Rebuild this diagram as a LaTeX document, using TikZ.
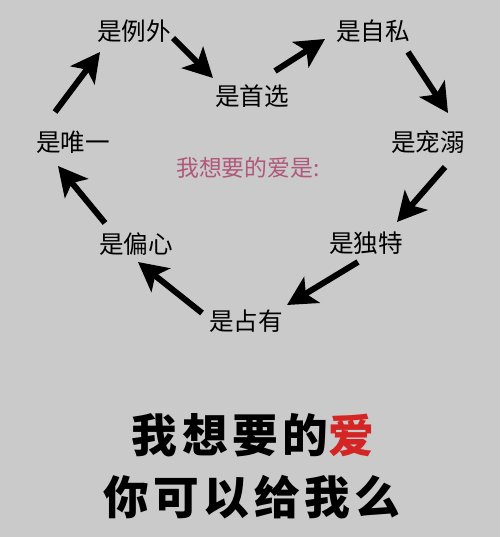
\documentclass[tikz,border=0pt]{standalone}
\usepackage{fontspec}
\usetikzlibrary{arrows.meta}
\newfontfamily\cjk{Noto Sans CJK SC}
\newfontfamily\cjkwide[LetterSpace=10]{Noto Sans CJK SC}
\definecolor{bgcol}{HTML}{CACACA}
\definecolor{pinkcol}{HTML}{B0587A}
\definecolor{redcol}{HTML}{D42424}

\begin{document}
\begin{tikzpicture}[x=0.02cm, y=-0.02cm,
  word/.style={font=\cjk\fontsize{14}{16}\selectfont, inner sep=0pt},
  arr/.style={-{Stealth[length=0.58cm,width=0.6cm,inset=0.14cm]},
    line width=3.4pt, black}]

% ---------- background ----------
\fill[bgcol] (0,0) rectangle (500,537);

% ---------- heart of words ----------
\node[word] (li)    at (134,31)  {是例外};
\node[word] (shou)  at (252,96)  {是首选};
\node[word] (si)    at (373,31)  {是自私};
\node[word] (chong) at (428,142) {是宠溺};
\node[word] (du)    at (366,243) {是独特};
\node[word] (zhan)  at (246,321) {是占有};
\node[word] (pian)  at (136,244) {是偏心};
\node[word] (wei)   at (73,142)  {是唯一};

% middle line
\node[font=\cjk\fontsize{13}{15}\selectfont, text=pinkcol, inner sep=0pt]
  (want) at (248,168) {我想要的爱是:};

% ---------- arrows ----------
\draw[arr] ([shift={(-18,-30)}]wei.center)   -- ([shift={(-34,21)}]li.center);
\draw[arr] ([shift={(39,7)}]li.center)       -- ([shift={(-39,-18)}]shou.center);
\draw[arr] ([shift={(23,-25)}]shou.center)   -- ([shift={(-48,8)}]si.center);
\draw[arr] ([shift={(35,21)}]si.center)      -- ([shift={(20,-29)}]chong.center);
\draw[arr] ([shift={(17,25)}]chong.center)   -- ([shift={(31,-21)}]du.center);
\draw[arr] ([shift={(-8,19)}]du.center)      -- ([shift={(41,-16)}]zhan.center);
\draw[arr] ([shift={(-44,-8)}]zhan.center)   -- ([shift={(2,18)}]pian.center);
\draw[arr] ([shift={(-31,-21)}]pian.center)  -- ([shift={(-15,24)}]wei.center);

% ---------- bottom lines ----------
\node[font=\cjkwide\bfseries\fontsize{26}{30}\selectfont, inner sep=0pt]
  (line1) at (253,435) {我想要的\textcolor{redcol}{爱}};
\node[font=\cjkwide\bfseries\fontsize{26}{30}\selectfont, inner sep=0pt]
  (line2) at (252,497) {你可以给我么};

\end{tikzpicture}
\end{document}
